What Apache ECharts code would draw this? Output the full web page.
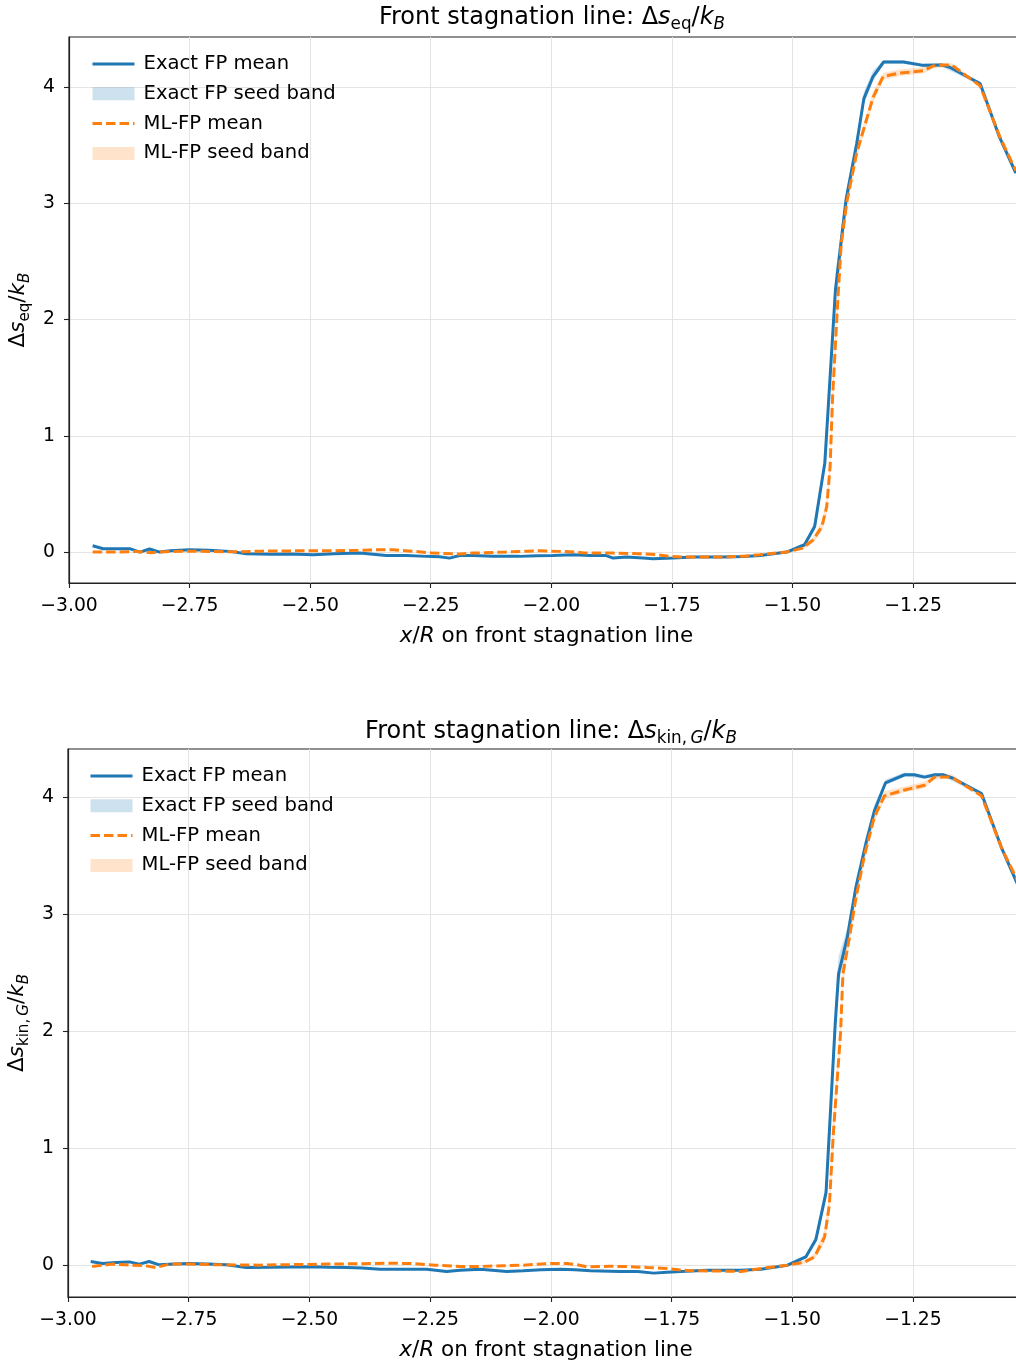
<!DOCTYPE html>
<html>
<head>
<meta charset="utf-8">
<script src="https://cdn.jsdelivr.net/npm/echarts@6/dist/echarts.min.js"></script>
<style>html,body{margin:0;padding:0;background:#fff}#c{width:1016px;height:1364px}</style>
</head>
<body>
<div id="c"></div>
<script>
// ---------- tick labels ----------
const xTicks = [-3.0, -2.75, -2.5, -2.25, -2.0, -1.75, -1.5, -1.25, -1.0];
const yTicks = [0, 1, 2, 3, 4];

// ---------- top panel: Δs_eq/k_B ----------
const topExactX = [-2.951,-2.929,-2.874,-2.853,-2.833,-2.812,-2.790,-2.750,-2.710,-2.667,-2.632,-2.580,-2.540,-2.494,-2.450,-2.397,-2.342,-2.300,-2.259,-2.232,-2.211,-2.190,-2.163,-2.120,-2.066,-2.030,-1.997,-1.955,-1.920,-1.886,-1.872,-1.844,-1.810,-1.789,-1.748,-1.706,-1.644,-1.600,-1.567,-1.512,-1.475,-1.454,-1.433,-1.411,-1.389,-1.367,-1.352,-1.333,-1.311,-1.290,-1.270,-1.229,-1.191,-1.174,-1.111,-1.071,-1.037];
const topExactY = [0.054,0.029,0.029,0.000,0.026,0.000,0.012,0.020,0.015,0.006,-0.014,-0.018,-0.016,-0.023,-0.015,-0.009,-0.029,-0.030,-0.037,-0.040,-0.052,-0.030,-0.030,-0.035,-0.037,-0.032,-0.030,-0.023,-0.030,-0.030,-0.052,-0.043,-0.050,-0.057,-0.052,-0.043,-0.043,-0.038,-0.030,0.000,0.063,0.220,0.765,2.250,3.030,3.510,3.900,4.090,4.215,4.215,4.215,4.186,4.190,4.170,4.030,3.570,3.260];
const topMLX = [-2.951,-2.900,-2.860,-2.830,-2.790,-2.750,-2.700,-2.650,-2.600,-2.550,-2.508,-2.450,-2.400,-2.360,-2.329,-2.290,-2.246,-2.190,-2.163,-2.094,-2.050,-2.025,-1.983,-1.950,-1.928,-1.872,-1.817,-1.785,-1.755,-1.720,-1.644,-1.600,-1.568,-1.512,-1.479,-1.457,-1.439,-1.429,-1.422,-1.417,-1.406,-1.399,-1.387,-1.367,-1.333,-1.312,-1.278,-1.250,-1.229,-1.209,-1.190,-1.170,-1.111,-1.070,-1.037];
const topMLY = [0.000,0.000,0.005,-0.005,0.005,0.008,0.005,0.002,0.008,0.010,0.011,0.012,0.015,0.020,0.020,0.008,-0.009,-0.017,-0.009,0.000,0.008,0.011,0.006,0.000,-0.009,-0.009,-0.014,-0.020,-0.037,-0.043,-0.043,-0.035,-0.023,0.000,0.034,0.105,0.220,0.390,0.735,1.320,2.170,2.650,3.020,3.430,3.910,4.090,4.120,4.130,4.140,4.180,4.190,4.190,4.010,3.570,3.280];
const topExactBandX = [-1.512,-1.475,-1.454,-1.433,-1.411,-1.400,-1.389,-1.367,-1.352,-1.333,-1.311,-1.270,-1.229,-1.191,-1.111,-1.071,-1.037];
const topExactBandLo = [-0.010,0.050,0.190,0.700,2.150,2.550,2.950,3.450,3.850,4.050,4.200,4.200,4.170,4.175,4.015,3.555,3.245];
const topExactBandHi = [0.010,0.080,0.260,0.850,2.400,2.750,3.100,3.580,3.960,4.140,4.230,4.230,4.200,4.205,4.045,3.585,3.275];
const topMLBandX = [-1.512,-1.479,-1.457,-1.439,-1.429,-1.422,-1.417,-1.406,-1.399,-1.387,-1.367,-1.333,-1.312,-1.278,-1.229,-1.209,-1.170,-1.111,-1.070,-1.037];
const topMLBandLo = [-0.010,0.020,0.080,0.180,0.330,0.660,1.200,2.050,2.550,2.950,3.380,3.860,4.060,4.095,4.115,4.160,4.175,3.995,3.555,3.265];
const topMLBandHi = [0.010,0.050,0.130,0.270,0.460,0.820,1.450,2.300,2.750,3.080,3.480,3.960,4.120,4.150,4.170,4.200,4.205,4.025,3.585,3.295];

// ---------- bottom panel: Δs_kin,G/k_B ----------
const botExactX = [-2.953,-2.929,-2.900,-2.873,-2.852,-2.832,-2.811,-2.780,-2.749,-2.710,-2.672,-2.631,-2.580,-2.540,-2.493,-2.460,-2.423,-2.390,-2.354,-2.300,-2.257,-2.216,-2.188,-2.146,-2.091,-2.057,-2.020,-1.980,-1.950,-1.918,-1.856,-1.820,-1.787,-1.760,-1.731,-1.676,-1.606,-1.565,-1.510,-1.472,-1.451,-1.430,-1.411,-1.404,-1.386,-1.368,-1.347,-1.330,-1.307,-1.267,-1.247,-1.226,-1.205,-1.188,-1.167,-1.108,-1.067,-1.034];
const botExactY = [0.031,0.014,0.022,0.028,0.009,0.031,0.003,0.010,0.014,0.010,0.003,-0.020,-0.018,-0.016,-0.014,-0.018,-0.020,-0.025,-0.034,-0.034,-0.034,-0.054,-0.043,-0.034,-0.054,-0.048,-0.040,-0.034,-0.040,-0.048,-0.054,-0.055,-0.068,-0.060,-0.054,-0.043,-0.043,-0.034,0.000,0.070,0.220,0.620,2.060,2.490,2.800,3.230,3.610,3.880,4.120,4.190,4.190,4.170,4.190,4.190,4.160,4.030,3.570,3.260];
const botMLX = [-2.950,-2.908,-2.870,-2.840,-2.818,-2.790,-2.745,-2.700,-2.650,-2.603,-2.550,-2.500,-2.465,-2.400,-2.340,-2.285,-2.240,-2.188,-2.146,-2.100,-2.057,-2.020,-2.000,-1.967,-1.940,-1.925,-1.880,-1.842,-1.800,-1.759,-1.735,-1.710,-1.650,-1.606,-1.575,-1.550,-1.510,-1.475,-1.454,-1.433,-1.423,-1.415,-1.400,-1.395,-1.382,-1.368,-1.350,-1.330,-1.309,-1.267,-1.226,-1.205,-1.170,-1.108,-1.067,-1.034];
const botMLY = [-0.011,0.009,0.000,-0.005,-0.020,0.009,0.009,0.004,0.002,0.000,0.004,0.006,0.009,0.012,0.017,0.014,0.000,-0.011,-0.011,-0.005,0.000,0.010,0.014,0.014,0.000,-0.014,-0.010,-0.011,-0.020,-0.028,-0.040,-0.048,-0.050,-0.054,-0.035,-0.020,0.000,0.025,0.070,0.240,0.520,1.120,1.980,2.490,2.790,3.140,3.510,3.830,4.010,4.060,4.100,4.170,4.170,4.010,3.570,3.290];
const botExactBandX = [-1.510,-1.472,-1.451,-1.430,-1.411,-1.404,-1.386,-1.368,-1.347,-1.330,-1.307,-1.267,-1.226,-1.188,-1.108,-1.067,-1.034];
const botExactBandLo = [-0.010,0.055,0.190,0.560,1.950,2.400,2.740,3.170,3.560,3.840,4.100,4.175,4.155,4.175,4.015,3.555,3.245];
const botExactBandHi = [0.010,0.085,0.260,0.700,2.250,2.640,2.880,3.300,3.670,3.930,4.150,4.210,4.190,4.205,4.045,3.585,3.275];
const botMLBandX = [-1.510,-1.475,-1.454,-1.433,-1.423,-1.415,-1.400,-1.395,-1.382,-1.368,-1.350,-1.330,-1.309,-1.267,-1.226,-1.205,-1.170,-1.108,-1.067,-1.034];
const botMLBandLo = [-0.010,0.015,0.050,0.190,0.440,1.000,1.880,2.400,2.730,3.080,3.450,3.780,3.980,4.040,4.075,4.150,4.155,3.995,3.555,3.275];
const botMLBandHi = [0.010,0.040,0.100,0.300,0.620,1.280,2.100,2.600,2.860,3.210,3.580,3.890,4.050,4.090,4.130,4.195,4.195,4.025,3.585,3.305];

// ---------- styling ----------
const FONT = 'DejaVu Sans';
const FS_TICK = 18.8, FS_LEG = 19.6, FS_LABEL = 21.5, FS_TITLE = 24;
const BLUE = '#1f77b4', ORANGE = '#ff7f0e';
const BLUE_BAND = 'rgba(31,119,180,0.22)', ORANGE_BAND = 'rgba(255,127,14,0.22)';
const LW = 3;
const DASH = [9.5, 4];
function makeRich(fs) {
  const sfs = Math.round(fs * 0.7 * 10) / 10;
  const pad = Math.round(fs * 0.55);
  const base = {fontFamily: FONT, color: '#000', fontWeight: 'normal'};
  return {
    n: Object.assign({fontSize: fs}, base),
    i: Object.assign({fontSize: fs, fontStyle: 'italic'}, base),
    sub: Object.assign({fontSize: sfs, padding: [pad, 0, 0, 0]}, base),
    subi: Object.assign({fontSize: sfs, fontStyle: 'italic', padding: [pad, 0, 0, 0]}, base)
  };
}
const richTitle = makeRich(FS_TITLE), richLabel = makeRich(FS_LABEL);
const fmtNum = (v, d) => (v < 0 ? '\u2212' : '') + Math.abs(v).toFixed(d);
const zip = (xs, ys) => xs.map((x, i) => [x, ys[i]]);

function bandSeries(name, xs, lo, hi, color, idx) {
  return {
    name, type: 'custom', xAxisIndex: idx, yAxisIndex: idx,
    itemStyle: {color: color},
    data: xs.map((x, i) => [x, lo[i], hi[i]]),
    encode: {x: 0, y: [1, 2]},
    silent: true,
    renderItem: function (params, api) {
      if (params.dataIndexInside !== 0) return null;
      const pts = [];
      for (let i = 0; i < xs.length; i++) pts.push(api.coord([xs[i], hi[i]]));
      for (let i = xs.length - 1; i >= 0; i--) pts.push(api.coord([xs[i], lo[i]]));
      return {type: 'polygon', shape: {points: pts}, style: {fill: color}};
    }
  };
}
function lineSeries(name, xs, ys, color, dashed, idx) {
  return {
    name, type: 'line', xAxisIndex: idx, yAxisIndex: idx,
    data: zip(xs, ys), symbol: 'none', showSymbol: false, animation: false,
    itemStyle: {color: color},
    lineStyle: {color: color, width: LW, type: dashed ? DASH : 'solid', cap: 'butt'}
  };
}

const grids = [
  {left: 69, top: 37, width: 955, height: 546},
  {left: 68, top: 749, width: 956, height: 548}
];
const yExt = [[-0.266, 4.43], [-0.272, 4.41]];

function xAxis(idx) {
  return {
    type: 'value', gridIndex: idx, min: -3.0, max: -1.02, interval: 0.25,
    axisLine: {show: true, onZero: false, lineStyle: {color: '#222', width: 1.2}},
    axisTick: {show: true, length: 5, lineStyle: {color: '#222', width: 1.1}, customValues: xTicks},
    axisLabel: {customValues: xTicks, color: '#000', fontFamily: FONT, fontSize: FS_TICK, margin: 14,
      formatter: v => fmtNum(v, 2)},
    splitLine: {show: true, lineStyle: {color: '#e4e4e4', width: 1}},
    name: '{i|x}{n|/}{i|R}{n| on front stagnation line}',
    nameLocation: 'middle', nameGap: 42,
    nameTextStyle: {rich: richLabel}
  };
}
function yAxis(idx, nameStr) {
  return {
    type: 'value', gridIndex: idx, min: yExt[idx][0], max: yExt[idx][1],
    axisLine: {show: true, onZero: false, lineStyle: {color: '#222', width: 1.2}},
    axisTick: {show: true, length: 5, lineStyle: {color: '#222', width: 1.1}, customValues: yTicks},
    axisLabel: {customValues: yTicks, color: '#000', fontFamily: FONT, fontSize: FS_TICK, margin: 14,
      formatter: v => fmtNum(v, 0)},
    splitLine: {show: true, lineStyle: {color: '#e4e4e4', width: 1}},
    name: nameStr, nameLocation: 'middle', nameGap: 34, nameRotate: 90,
    nameTextStyle: {rich: richLabel}
  };
}
function legend(left, top) {
  const hidden = {opacity: 0};
  return {
    orient: 'vertical', left: left, top: top, itemWidth: 42, itemHeight: 13, itemGap: 9.8,
    selectedMode: false,
    textStyle: {fontFamily: FONT, fontSize: FS_LEG, color: '#000', padding: [0, 0, 0, 4]},
    data: [
      {name: 'Exact FP mean', itemStyle: hidden, lineStyle: {width: LW, color: BLUE, type: 'solid'}},
      {name: 'Exact FP seed band', icon: 'rect'},
      {name: 'ML-FP mean', itemStyle: hidden, lineStyle: {width: LW, color: ORANGE, type: DASH}},
      {name: 'ML-FP seed band', icon: 'rect'}
    ]
  };
}

const chart = echarts.init(document.getElementById('c'), null, {renderer: 'canvas'});
chart.setOption({
  animation: false,
  backgroundColor: '#fff',
  title: [
    {text: '{n|Front stagnation line: Δ}{i|s}{sub|eq}{n|/}{i|k}{subi|B}', left: 547, top: -2, textAlign: 'center',
      textStyle: {rich: richTitle}},
    {text: '{n|Front stagnation line: Δ}{i|s}{sub|kin,\u2009}{subi|G}{n|/}{i|k}{subi|B}', left: 546, top: 712, textAlign: 'center',
      textStyle: {rich: richTitle}}
  ],
  legend: [legend(86, 49), legend(84, 761)],
  grid: grids.map(g => Object.assign({show: true, borderColor: '#222', borderWidth: 1.2,
    backgroundColor: 'transparent', outerBoundsMode: 'none', containLabel: false}, g)),
  xAxis: [xAxis(0), xAxis(1)],
  yAxis: [
    yAxis(0, '{n|Δ}{i|s}{sub|eq}{n|/}{i|k}{subi|B}'),
    yAxis(1, '{n|Δ}{i|s}{sub|kin,\u2009}{subi|G}{n|/}{i|k}{subi|B}')
  ],
  series: [
    lineSeries('Exact FP mean', topExactX, topExactY, BLUE, false, 0),
    bandSeries('Exact FP seed band', topExactBandX, topExactBandLo, topExactBandHi, BLUE_BAND, 0),
    lineSeries('ML-FP mean', topMLX, topMLY, ORANGE, true, 0),
    bandSeries('ML-FP seed band', topMLBandX, topMLBandLo, topMLBandHi, ORANGE_BAND, 0),
    lineSeries('Exact FP mean', botExactX, botExactY, BLUE, false, 1),
    bandSeries('Exact FP seed band', botExactBandX, botExactBandLo, botExactBandHi, BLUE_BAND, 1),
    lineSeries('ML-FP mean', botMLX, botMLY, ORANGE, true, 1),
    bandSeries('ML-FP seed band', botMLBandX, botMLBandLo, botMLBandHi, ORANGE_BAND, 1)
  ]
});
</script>
</body>
</html>
